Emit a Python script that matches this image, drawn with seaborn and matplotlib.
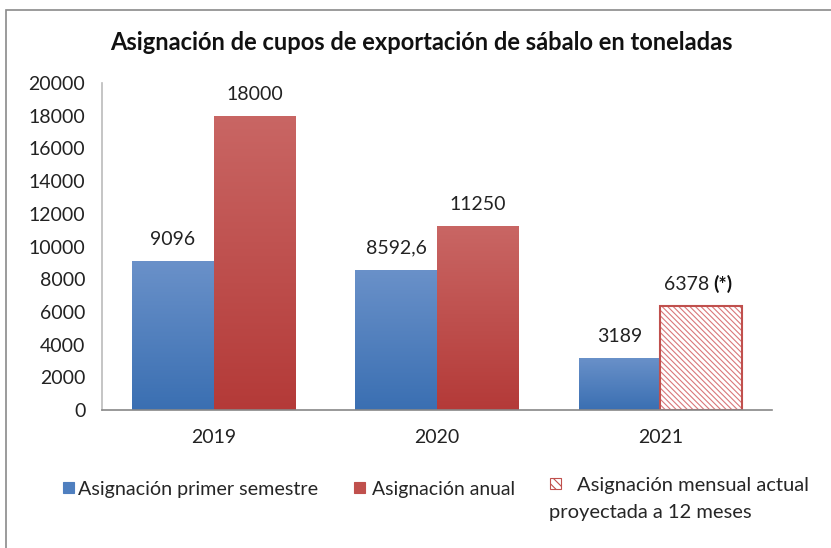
import matplotlib
matplotlib.use("Agg")
import matplotlib.pyplot as plt
import seaborn as sns
import pandas as pd
import numpy as np
from matplotlib.patches import Rectangle
from matplotlib.colors import LinearSegmentedColormap

years = ["2019", "2020", "2021"]
semestre = [9096, 8592.6, 3189]
anual = [18000, 11250, 6378]
semestre_labels = ["9096", "8592,6", "3189"]
anual_labels = ["18000", "11250", "6378"]
series_names = ["Asignación primer semestre", "Asignación anual"]
title = "Asignación de cupos de exportación de sábalo en toneladas"
legend_hatch_label = ["Asignación mensual actual", "proyectada a 12 meses"]
yticks = list(range(0, 20001, 2000))

BLUE = "#4F7FBF"
RED = "#C0504D"
BLUE_TOP, BLUE_BOT = "#6A91C9", "#3A6FB2"
RED_TOP, RED_BOT = "#C96664", "#B43A38"
HATCH_RED = "#D9777A"
TXT = "#222222"

sns.set_theme(style="white")
plt.rcParams["font.family"] = ["Lato", "DejaVu Sans"]
plt.rcParams["hatch.linewidth"] = 0.8

df = pd.DataFrame({
    "year": years * 2,
    "value": semestre + anual,
    "serie": [series_names[0]] * 3 + [series_names[1]] * 3,
})

W, H = 831, 548
fig = plt.figure(figsize=(W / 100, H / 100), dpi=100)
ax = fig.add_axes([102 / W, 1 - 410 / H, (772 - 102) / W, (410 - 83) / H])

sns.barplot(data=df, x="year", y="value", hue="serie", palette=[BLUE, RED],
            width=0.73, ax=ax, legend=False, saturation=1, errorbar=None)

ax.set_ylim(0, 20000)
ax.set_xlim(-0.5, 2.5)
ax.set_yticks(yticks)
ax.set_yticklabels([str(t) for t in yticks], fontsize=14, color=TXT)
ax.tick_params(axis="x", labelsize=14, colors=TXT, pad=14, length=0)
ax.tick_params(axis="y", pad=12, length=0)
ax.set_xlabel("")
ax.set_ylabel("")
for s in ["top", "right"]:
    ax.spines[s].set_visible(False)
ax.spines["left"].set_color("#BBBBBB")
ax.spines["bottom"].set_color("#888888")
ax.spines["left"].set_linewidth(1.2)
ax.spines["bottom"].set_linewidth(1.2)

bars = [p for p in ax.patches if isinstance(p, Rectangle) and p.get_height() > 0]
bars = sorted(bars, key=lambda p: p.get_x())
blue_bars = bars[0::2]
red_bars = bars[1::2]

grad = np.linspace(0, 1, 256).reshape(-1, 1)
def gradient(bar, top, bot):
    cmap = LinearSegmentedColormap.from_list("g", [bot, top])
    x0, w, h = bar.get_x(), bar.get_width(), bar.get_height()
    im = ax.imshow(grad, cmap=cmap, aspect="auto", origin="lower",
                   extent=(x0, x0 + w, 0, h), zorder=bar.get_zorder() + 0.1,
                   interpolation="bicubic")
    im.set_clip_path(bar)

for b in blue_bars:
    gradient(b, BLUE_TOP, BLUE_BOT)
for b in red_bars[:2]:
    gradient(b, RED_TOP, RED_BOT)
ax.set_xlim(-0.5, 2.5)
ax.set_ylim(0, 20000)

hb = red_bars[2]
hb.set_facecolor("white")
hb.set_edgecolor(HATCH_RED)
hb.set_hatch("\\\\\\\\\\\\")
hb.set_linewidth(0)
ax.add_patch(Rectangle((hb.get_x(), 0), hb.get_width(), hb.get_height(),
                       fill=False, edgecolor=RED, linewidth=1.5, zorder=hb.get_zorder() + 1))

for b, lab in zip(blue_bars, semestre_labels):
    ax.annotate(lab, (b.get_x() + b.get_width() / 2, b.get_height()),
                xytext=(0, 13), textcoords="offset pixels", ha="center", va="bottom",
                fontsize=14, color=TXT)
for i, (b, lab) in enumerate(zip(red_bars, anual_labels)):
    cx = b.get_x() + b.get_width() / 2
    if i == 2:
        ax.annotate(lab, (cx, b.get_height()), xytext=(8, 13), textcoords="offset pixels",
                    ha="right", va="bottom", fontsize=14, color=TXT)
        ax.annotate("(*)", (cx, b.get_height()), xytext=(12, 13), textcoords="offset pixels",
                    ha="left", va="bottom", fontsize=14, color="#111111", fontweight="bold")
    else:
        ax.annotate(lab, (cx, b.get_height()), xytext=(0, 13), textcoords="offset pixels",
                    ha="center", va="bottom", fontsize=14, color=TXT)

renderer = fig.canvas.get_renderer()

def fit_text(x_px, y_px, s, width_px, ha="left", va="center", size=12, **kw):
    t = fig.text(x_px / W, 1 - y_px / H, s, ha=ha, va=va, fontsize=size, **kw)
    wpx = t.get_window_extent(renderer=renderer).width
    t.set_fontsize(size * width_px / wpx)
    return t

fit_text(421.5, 42, title, 623, ha="center", size=16, fontweight="bold", color="#111111")

fig.patches.append(Rectangle((6 / W, -0.1), 1.2, 1 - 10 / H + 0.1,
                             transform=fig.transFigure, fill=False,
                             edgecolor="#8A8A8A", linewidth=1.2))

def legend_item(x_px, y_px, face, edge, hatch=None, size=11):
    fig.patches.append(Rectangle((x_px / W, 1 - (y_px + size / 2) / H), size / W, size / H,
                                 transform=fig.transFigure, facecolor=face,
                                 edgecolor=edge, hatch=hatch, linewidth=0.8))

LEG_TXT = "#262626"
legend_item(63, 487.5, BLUE, BLUE)
fit_text(78, 495.5, series_names[0], 239, va="baseline", color=LEG_TXT)
legend_item(354, 487.5, RED, RED)
fit_text(372, 495, series_names[1], 143, va="baseline", color=LEG_TXT)
legend_item(550, 483.5, "white", RED, hatch="\\\\\\\\")
t1 = fit_text(577, 491.5, legend_hatch_label[0], 232, va="baseline", color=LEG_TXT)
fig.text(549 / W, 1 - 518 / H, legend_hatch_label[1], ha="left", va="baseline",
         fontsize=t1.get_fontsize(), color=LEG_TXT)

fig.savefig("out.png", dpi=100, facecolor="white")
